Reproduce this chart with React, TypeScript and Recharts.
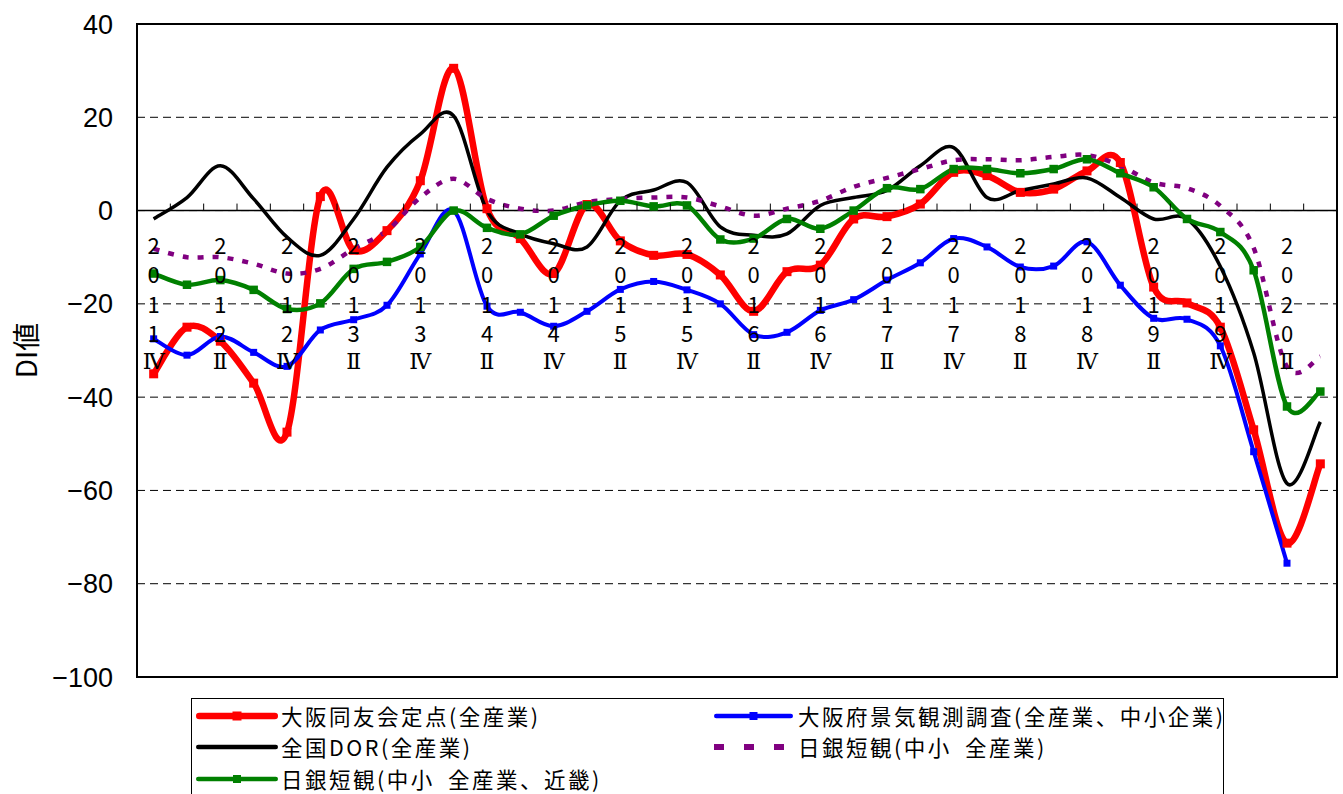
import React from 'react';
import { LineChart, Line, XAxis, YAxis, CartesianGrid, ReferenceLine, ReferenceArea } from 'recharts';

// ---------- data ----------
const quarters = [
  '2011Ⅳ',
  '2012Ⅰ', '2012Ⅱ', '2012Ⅲ', '2012Ⅳ',
  '2013Ⅰ', '2013Ⅱ', '2013Ⅲ', '2013Ⅳ',
  '2014Ⅰ', '2014Ⅱ', '2014Ⅲ', '2014Ⅳ',
  '2015Ⅰ', '2015Ⅱ', '2015Ⅲ', '2015Ⅳ',
  '2016Ⅰ', '2016Ⅱ', '2016Ⅲ', '2016Ⅳ',
  '2017Ⅰ', '2017Ⅱ', '2017Ⅲ', '2017Ⅳ',
  '2018Ⅰ', '2018Ⅱ', '2018Ⅲ', '2018Ⅳ',
  '2019Ⅰ', '2019Ⅱ', '2019Ⅲ', '2019Ⅳ',
  '2020Ⅰ', '2020Ⅱ', '2020Ⅲ',
];

// 大阪同友会定点(全産業)
const doyukai = [
  -35, -25, -28, -37, -47.5, 3, -8.5, -4.3, 6.4, 30.5, 0.4, -6, -13.5, 1.3, -6.5, -9.6, -9.4, -13.8,
  -21.6, -13.1, -11.7, -1.8, -1.3, 1.4, 8.2, 7.5, 3.9, 4.6, 8.5, 10.3, -16.4, -19.8, -25, -47, -71.3, -54.3,
];
// 大阪府景気観測調査(全産業、中小企業)
const osakaFu = [
  -27.5, -31, -27, -30.4, -33.4, -25.6, -23.4, -20.3, -9.3, 0, -20.5, -21.8, -24.8, -21.6, -16.9, -15.2,
  -17, -20, -26.6, -26.1, -21.4, -19.1, -14.9, -11.2, -6, -7.8, -12.1, -11.9, -6.7, -16, -23.1, -23.3,
  -29, -51.7, -75.6, null,
];
// 全国DOR(全産業)
const dor = [
  -1.8, 2.8, 9.6, 2.5, -5.7, -9.6, -1.8, 9.3, 16.4, 20.3, 0, -5, -7.1, -7.8, 2.1, 4.4, 6, -3.5, -5.3,
  -5, 1.1, 2.8, 4.3, 9.6, 13.5, 2.8, 4.3, 5.7, 7, 2.8, -1.8, -1.8, -12, -30.5, -58.5, -45.3,
];
// 日銀短観(中小 全産業)
const tankan = [
  -8.2, -10, -10, -11.4, -13.5, -12.5, -8.2, -4.3, 2.8, 6.8, 2.5, 0.4, 0, 1.8, 2.5, 2.8, 2.8, 0.9, -1.1,
  0.4, 2.1, 5.1, 7, 8.9, 10.8, 11, 10.8, 11.5, 11.9, 9.6, 6, 4.8, 1, -8, -33.5, -31.3,
];
// 日銀短観(中小 全産業、近畿)
const tankanKinki = [
  -13.5, -15.9, -14.9, -17, -21.1, -19.9, -12.5, -11, -7.8, 0, -3.7, -5.1, -1.1, 1.1, 2.1, 0.9, 1.1,
  -6.2, -6, -1.8, -3.9, 0, 4.8, 4.6, 8.9, 8.9, 8, 8.9, 11, 8, 5, -1.8, -4.6, -12.8, -42, -38.8,
];

const yTicks = [-100, -80, -60, -40, -20, 0, 20, 40];

const data = quarters.map((q, i) => ({
  q,
  doyukai: doyukai[i],
  osakaFu: osakaFu[i],
  dor: dor[i],
  tankan: tankan[i],
  tankanKinki: tankanKinki[i],
}));

// ---------- layout ----------
const W = 1343;
const H = 794;
const MARGIN = { top: 24, right: 6, bottom: 116, left: 0 };
const Y_AXIS_W = 137;
const X_AXIS_H = 1;
const PLOT_TOP = MARGIN.top;
const PLOT_H = H - MARGIN.top - MARGIN.bottom - X_AXIS_H;
const PLOT_W = W - MARGIN.left - MARGIN.right - Y_AXIS_W;
const Y_MIN = -100;
const Y_MAX = 40;
const ZERO_Y = PLOT_TOP + (PLOT_H * (Y_MAX - 0)) / (Y_MAX - Y_MIN);
const BAND = PLOT_W / quarters.length;

// Excel-like smoothing (Catmull-Rom bezier)
function excelCurve(context: any) {
  let pts: number[][] = [];
  return {
    areaStart() {},
    areaEnd() {},
    lineStart() {
      pts = [];
    },
    lineEnd() {
      const n = pts.length;
      if (!n) return;
      context.moveTo(pts[0][0], pts[0][1]);
      for (let i = 0; i < n - 1; i++) {
        const p0 = pts[i - 1] || pts[i];
        const p1 = pts[i];
        const p2 = pts[i + 1];
        const p3 = pts[i + 2] || pts[i + 1];
        context.bezierCurveTo(
          p1[0] + (p2[0] - p0[0]) / 6,
          p1[1] + (p2[1] - p0[1]) / 6,
          p2[0] - (p3[0] - p1[0]) / 6,
          p2[1] - (p3[1] - p1[1]) / 6,
          p2[0],
          p2[1]
        );
      }
    },
    point(x: number, y: number) {
      pts.push([+x, +y]);
    },
  };
}

const squareDot = (color: string, size: number) => (props: any) => {
  const { cx, cy, index, value } = props;
  if (value == null || cx == null || cy == null) return <g key={`d-${index}`} />;
  return <rect key={`d-${index}`} x={cx - size / 2} y={cy - size / 2} width={size} height={size} fill={color} />;
};

function QuarterTick(props: any) {
  const { x, payload } = props;
  const index = props.index ?? payload.index;
  const s: string = payload.value;
  const chars = [s[0], s[1], s[2], s[3], s.slice(4)];
  return (
    <g>
      {index > 0 && (
        <line x1={x - BAND / 2} x2={x - BAND / 2} y1={ZERO_Y - 7} y2={ZERO_Y} stroke="#000" strokeWidth={1} />
      )}
      {index % 2 === 0 && (
        <text textAnchor="middle" fill="#000" fontSize={22} fontFamily="'Noto Sans CJK JP', sans-serif">
          {chars.map((c, k) => (
            <tspan
              key={k}
              x={x}
              y={ZERO_Y + 33 + k * 29.6}
              dominantBaseline="central"
              fontFamily={k === 4 ? "'DejaVu Serif', serif" : undefined}
            >
              {c}
            </tspan>
          ))}
        </text>
      )}
    </g>
  );
}

const YLabel = (props: any) => {
  const vb = props.viewBox || {};
  const cx = (vb.x || 0) + 25;
  const cy = (vb.y || 0) + (vb.height || 0) / 2;
  return (
    <text
      x={cx}
      y={cy}
      transform={`rotate(-90, ${cx}, ${cy})`}
      textAnchor="middle"
      dominantBaseline="central"
      fontSize={28}
      fill="#000"
      fontFamily="'Noto Sans CJK JP', sans-serif"
    >
      DI値
    </text>
  );
};

const GAP = '\u2002';

const series = [
  { key: 'doyukai', name: '大阪同友会定点(全産業)', color: '#FF0000', width: 6.5, dot: 9, dash: undefined },
  { key: 'osakaFu', name: '大阪府景気観測調査(全産業、中小企業)', color: '#0000FF', width: 4, dot: 7, dash: undefined },
  { key: 'dor', name: '全国DOR(全産業)', color: '#000000', width: 3.5, dot: 0, dash: undefined },
  { key: 'tankan', name: `日銀短観(中小${GAP}全産業)`, color: '#800080', width: 4.5, dot: 0, dash: '6 9' },
  { key: 'tankanKinki', name: `日銀短観(中小${GAP}全産業、近畿)`, color: '#008000', width: 4.5, dot: 8.5, dash: undefined },
];

const legendPos = [
  { key: 'doyukai', left: 4, top: 16.5, sw: 82, tx: 89 },
  { key: 'osakaFu', left: 522, top: 16.5, sw: 79, tx: 606 },
  { key: 'dor', left: 4, top: 48, sw: 82, tx: 89 },
  { key: 'tankan', left: 522, top: 48, sw: 79, tx: 606 },
  { key: 'tankanKinki', left: 4, top: 79.5, sw: 82, tx: 89 },
];

const LEG_FS = 21.5;

function Swatch({ s, w }: { s: any; w: number }) {
  const lw = s.dash ? 6 : s.key === 'doyukai' ? 6.5 : 4.5;
  const mk = s.key === 'doyukai' ? 9 : 8;
  return (
    <svg width={w} height={20} style={{ display: 'block' }}>
      <line
        x1={s.dash ? 0 : lw / 2}
        x2={w - (s.dash ? 0 : lw / 2)}
        y1={10}
        y2={10}
        stroke={s.color}
        strokeWidth={lw}
        strokeLinecap={s.dash ? 'butt' : 'round'}
        strokeDasharray={s.dash ? '10 20' : undefined}
      />
      {s.dot > 0 && <rect x={w / 2 - mk / 2} y={10 - mk / 2} width={mk} height={mk} fill={s.color} />}
    </svg>
  );
}

export default function App() {
  return (
    <div style={{ position: 'relative', width: W, height: H, overflow: 'hidden', background: '#fff' }}>
      <style>{`body{margin:0;overflow:hidden;}`}</style>
      <LineChart width={W} height={H} data={data} margin={MARGIN}>
        <CartesianGrid vertical={false} stroke="#000" strokeDasharray="8 5" strokeWidth={1} />
        <XAxis
          dataKey="q"
          scale="band"
          interval={0}
          axisLine={false}
          tickLine={false}
          height={X_AXIS_H}
          tick={<QuarterTick />}
        />
        <YAxis
          domain={[Y_MIN, Y_MAX]}
          ticks={yTicks}
          width={Y_AXIS_W}
          axisLine={false}
          tickLine={false}
          tickMargin={18}
          interval={0}
          tick={{ fontSize: 27, fill: '#000', fontFamily: "'Liberation Sans', Arial, sans-serif" }}
          tickFormatter={(v: number) => (v < 0 ? '−' + Math.abs(v) : String(v))}
          label={<YLabel />}
        />
        <ReferenceLine y={0} stroke="#000" strokeWidth={1.5} />
        {series.map((s) => (
          <Line
            key={s.key}
            dataKey={s.key}
            name={s.name}
            type={excelCurve as any}
            stroke={s.color}
            strokeWidth={s.width}
            strokeDasharray={s.dash}
            dot={s.dot > 0 ? squareDot(s.color, s.dot) : false}
            activeDot={false}
            isAnimationActive={false}
            connectNulls={false}
          />
        ))}
        <ReferenceArea y1={Y_MIN} y2={Y_MAX} fill="none" stroke="#000" strokeWidth={2} ifOverflow="visible" />
      </LineChart>
      <div
        style={{
          position: 'absolute',
          left: 191,
          top: 698,
          width: 1033,
          height: 96,
          borderTop: '1.5px solid #000',
          borderLeft: '1.5px solid #000',
          borderRight: '1.5px solid #000',
          boxSizing: 'border-box',
          background: '#fff',
          fontFamily: "'Noto Sans CJK JP', sans-serif",
          fontSize: LEG_FS,
          letterSpacing: '2.5px',
          color: '#000',
        }}
      >
        {legendPos.map((p) => {
          const s = series.find((x) => x.key === p.key)!;
          return (
            <React.Fragment key={p.key}>
              <div style={{ position: 'absolute', left: p.left, top: p.top - 10 }}>
                <Swatch s={s} w={p.sw} />
              </div>
              <div
                style={{
                  position: 'absolute',
                  left: p.tx,
                  top: p.top - 11,
                  height: 22,
                  lineHeight: '22px',
                  whiteSpace: 'pre',
                }}
              >
                {s.name}
              </div>
            </React.Fragment>
          );
        })}
      </div>
    </div>
  );
}
